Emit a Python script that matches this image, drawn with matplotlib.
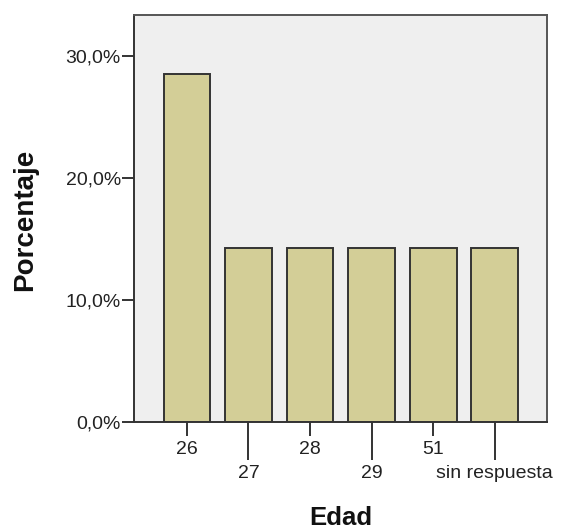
import matplotlib
matplotlib.use("Agg")
import matplotlib.pyplot as plt
from matplotlib.ticker import FuncFormatter

# Datos: distribución de edad (porcentaje)
edades = ["26", "27", "28", "29", "51", "sin respuesta"]
porcentajes = [28.57, 14.29, 14.29, 14.29, 14.29, 14.29]

plt.rcParams['font.family'] = ['Liberation Sans', 'DejaVu Sans']

fig = plt.figure(figsize=(5.61, 5.32), dpi=100)
ax = fig.add_axes([0.2389, 0.2068, 0.7361, 0.765])
ax.set_facecolor('#efefef')

pos = list(range(len(edades)))
ax.bar(pos, porcentajes, width=0.76, color='#d3ce97', edgecolor='#333333', linewidth=1.4)

ax.set_xlim(-0.86, 5.85)
ax.set_ylim(0, 33.4)

# Ticks y
ax.set_yticks([0, 10, 20, 30])
ax.yaxis.set_major_formatter(FuncFormatter(lambda v, p: ("%.1f%%" % v).replace(".", ",")))
ax.tick_params(axis='y', length=8.5, width=1.4, color='#333333', labelsize=14, pad=1, labelcolor='#222222')

# Ticks x alternados: cortos y largos
ax.set_xticks(pos[0::2], [edades[i] for i in pos[0::2]])
ax.set_xticks(pos[1::2], [edades[i] for i in pos[1::2]], minor=True)
ax.tick_params(axis='x', which='major', length=10, width=1.4, color='#333333', labelsize=14, pad=4, labelcolor='#222222')
ax.tick_params(axis='x', which='minor', length=27, width=1.4, color='#333333', labelsize=14, pad=4, labelcolor='#222222')

for s in ax.spines.values():
    s.set_color('#333333')
    s.set_linewidth(1.4)
ax.spines['top'].set_color('#555555')
ax.spines['right'].set_color('#555555')

fig.text(0.607, 1 - 525 / 532, "Edad", ha='center', va='baseline', fontsize=18.5, fontweight='bold', color='#111111')
fig.text(25 / 561, 1 - 220 / 532, "Porcentaje", ha='center', va='center', rotation=90, fontsize=20, fontweight='bold', color='#111111')

fig.savefig("out.png", dpi=100, facecolor='white')
